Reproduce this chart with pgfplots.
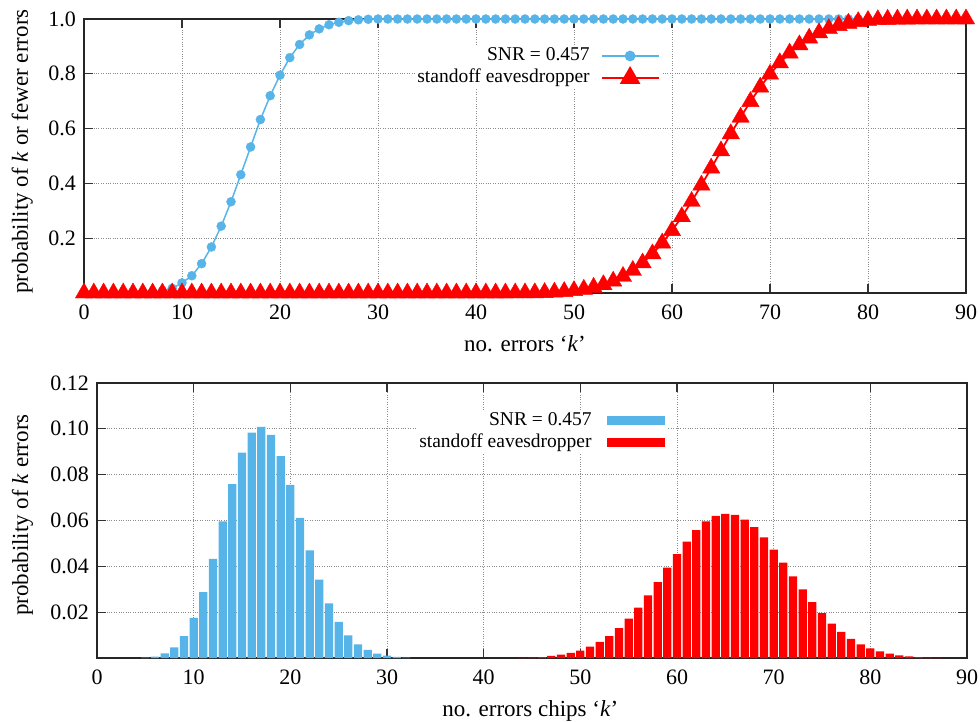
\documentclass[border=0pt]{standalone}
\usepackage{fontspec}
\setmainfont{Liberation Serif}
\usepackage{pgfplots}
\pgfplotsset{compat=1.18}
\usepackage{pgfplotstable}
\definecolor{sky}{RGB}{86,180,233}
\definecolor{myred}{RGB}{255,0,0}

\pgfplotstableread{
k p
0 0
1 0
2 0
3 0
4 0
5 0.0002
6 0.0008
7 0.0028
8 0.0074
9 0.017
10 0.037
11 0.063
12 0.107
13 0.168
14 0.244
15 0.333
16 0.432
17 0.533
18 0.633
19 0.720
20 0.795
21 0.859
22 0.907
23 0.942
24 0.964
25 0.979
26 0.988
27 0.994
28 0.997
29 0.999
30 1
31 1
32 1
33 1
34 1
35 1
36 1
37 1
38 1
39 1
40 1
41 1
42 1
43 1
44 1
45 1
46 1
47 1
48 1
49 1
50 1
51 1
52 1
53 1
54 1
55 1
56 1
57 1
58 1
59 1
60 1
61 1
62 1
63 1
64 1
65 1
66 1
67 1
68 1
69 1
70 1
71 1
72 1
73 1
74 1
75 1
76 1
77 1
78 1
79 1
80 1
81 1
82 1
83 1
84 1
85 1
86 1
87 1
88 1
89 1
90 1
}\blueCDF

\pgfplotstableread{
k p
0 0
1 0
2 0
3 0
4 0
5 0
6 0
7 0
8 0
9 0
10 0
11 0
12 0
13 0
14 0
15 0
16 0
17 0
18 0
19 0
20 0
21 0
22 0
23 0
24 0
25 0
26 0
27 0
28 0
29 0
30 0
31 0
32 0
33 0
34 0
35 0
36 0
37 0
38 0
39 0
40 0
41 0
42 0
43 0
44 0.0001
45 0.0003
46 0.0007
47 0.0016
48 0.0031
49 0.0053
50 0.0085
51 0.0135
52 0.0205
53 0.0301
54 0.0431
55 0.0603
56 0.0823
57 0.1096
58 0.1427
59 0.1821
60 0.2274
61 0.2782
62 0.3340
63 0.3936
64 0.4556
65 0.5185
66 0.5810
67 0.6414
68 0.6985
69 0.7511
70 0.7984
71 0.8400
72 0.8756
73 0.9055
74 0.9299
75 0.9495
76 0.9645
77 0.9759
78 0.9842
79 0.9902
80 0.9944
81 0.9973
82 0.9988
83 0.9995
84 0.9998
85 0.9999
86 1
87 1
88 1
89 1
90 1
}\redCDF

\pgfplotstableread{
k p
5 0.0002
6 0.0006
7 0.0020
8 0.0046
9 0.0096
10 0.0175
11 0.0288
12 0.0433
13 0.0596
14 0.0759
15 0.0896
16 0.0983
17 0.1009
18 0.0974
19 0.0881
20 0.0755
21 0.0612
22 0.0470
23 0.0342
24 0.0238
25 0.0158
26 0.0099
27 0.0059
28 0.0035
29 0.0019
30 0.0010
31 0.0005
32 0.0002
}\bluePDF

\pgfplotstableread{
k p
44 0.0001
45 0.0002
46 0.0004
47 0.0009
48 0.0015
49 0.0022
50 0.0032
51 0.0050
52 0.0070
53 0.0096
54 0.0130
55 0.0172
56 0.0220
57 0.0273
58 0.0331
59 0.0394
60 0.0453
61 0.0508
62 0.0558
63 0.0596
64 0.0620
65 0.0629
66 0.0625
67 0.0604
68 0.0571
69 0.0526
70 0.0473
71 0.0416
72 0.0356
73 0.0299
74 0.0244
75 0.0196
76 0.0150
77 0.0114
78 0.0083
79 0.0060
80 0.0042
81 0.0029
82 0.0019
83 0.0012
84 0.0007
85 0.0004
86 0.0002
87 0.0001
}\redPDF

\pgfplotsset{
  myaxis/.style={
    scale only axis,
    xmin=0, xmax=90,
    xtick={0,10,20,30,40,50,60,70,80,90},
    scaled ticks=false,
    tick align=inside,
    major tick length=9bp,
    grid=major,
    major grid style={black!45, dotted, line width=0.9bp},
    axis line style={black!85, line width=1.4bp},
    tick style={black!80, line width=1.2bp},
    tick label style={font=\fontsize{22bp}{26bp}\selectfont},
    label style={font=\fontsize{23bp}{27bp}\selectfont},
    xticklabel style={inner sep=0pt, anchor=north, yshift=-12bp},
    yticklabel style={inner sep=0pt, anchor=east, xshift=-8bp},
    /pgf/number format/assume math mode=true,
    clip=false,
    legend cell align=right,
    legend plot pos=right,
    legend style={draw=none, fill=white, inner sep=2bp,
      font=\fontsize{19.5bp}{22bp}\selectfont,
      nodes={inner sep=0pt, text height=13.5bp, text depth=4.5bp}},
  },
  mybluelegend/.style={
    legend image code/.code={
      \draw[sky, line width=1.8bp] (0bp,0bp) -- (57bp,0bp);
      \fill[sky] (28.5bp,0bp) circle[radius=4.6bp];}
  },
  myredlegend/.style={
    legend image code/.code={
      \draw[myred, line width=1.8bp] (0bp,0bp) -- (57bp,0bp);
      \fill[myred] (28.5bp,10bp) -- (37.2bp,-5bp) -- (19.8bp,-5bp) -- cycle;}
  },
  mybluebox/.style={
    legend image code/.code={\fill[sky] (0bp,-4.5bp) rectangle (58bp,4.5bp);}
  },
  myredbox/.style={
    legend image code/.code={\fill[myred] (0bp,-4.5bp) rectangle (58bp,4.5bp);}
  },
}

\begin{document}
\begin{tikzpicture}
\useasboundingbox (0,0) rectangle (980bp,-722bp);
\begin{axis}[myaxis,
  at={(84bp,-293bp)}, anchor=south west,
  width=882bp, height=274bp,
  ymin=0, ymax=1,
  ytick={0.2,0.4,0.6,0.8,1.0},
  yticklabel style={/pgf/number format/.cd,fixed,fixed zerofill,precision=1},
  ylabel={probability of \textit{k} or fewer errors},
  xlabel={no. errors ‘\textit{k}’},
  ylabel style={at={(axis description cs:-0.0635,0.516)}, anchor=base},
  xlabel style={at={(axis description cs:0.5,-0.215)}, anchor=base},
  legend style={at={(axis description cs:0.655,0.825)}, anchor=east, row sep=2bp,
    /tikz/every odd column/.append style={column sep=11bp}},
]
\addplot[sky, line width=1.5bp, mark=*, mark size=4.5bp,
  mark options={solid, fill=sky, draw=sky, line width=0.4bp}, mybluelegend]
  table[x=k, y=p] {\blueCDF};
\addlegendentry{SNR = 0.457}
\addplot[myred, line width=1.8bp, mark=triangle*, mark size=10bp,
  mark options={solid, fill=myred, draw=myred, line width=0.4bp}, myredlegend]
  table[x=k, y=p] {\redCDF};
\addlegendentry{standoff eavesdropper}
\end{axis}

\begin{axis}[myaxis,
  at={(97bp,-658bp)}, anchor=south west,
  width=870bp, height=275bp,
  ymin=0, ymax=0.12,
  ytick={0.02,0.04,0.06,0.08,0.10,0.12},
  yticklabel style={/pgf/number format/.cd,fixed,fixed zerofill,precision=2},
  ylabel={probability of \textit{k} errors},
  xlabel={no. errors chips ‘\textit{k}’},
  ylabel style={at={(axis description cs:-0.0793,0.52)}, anchor=base},
  xlabel style={at={(axis description cs:0.498,-0.213)}, anchor=base},
  legend style={at={(axis description cs:0.655,0.822)}, anchor=east, row sep=4bp,
    /tikz/every odd column/.append style={column sep=15bp}},
]
\addplot[ybar, bar shift=0pt, bar width=0.85, fill=sky, draw=none, mybluebox]
  table[x=k, y=p] {\bluePDF};
\addlegendentry{SNR = 0.457}
\addplot[ybar, bar shift=0pt, bar width=0.85, fill=myred, draw=none, myredbox]
  table[x=k, y=p] {\redPDF};
\addlegendentry{standoff eavesdropper}
\end{axis}
\end{tikzpicture}
\end{document}
